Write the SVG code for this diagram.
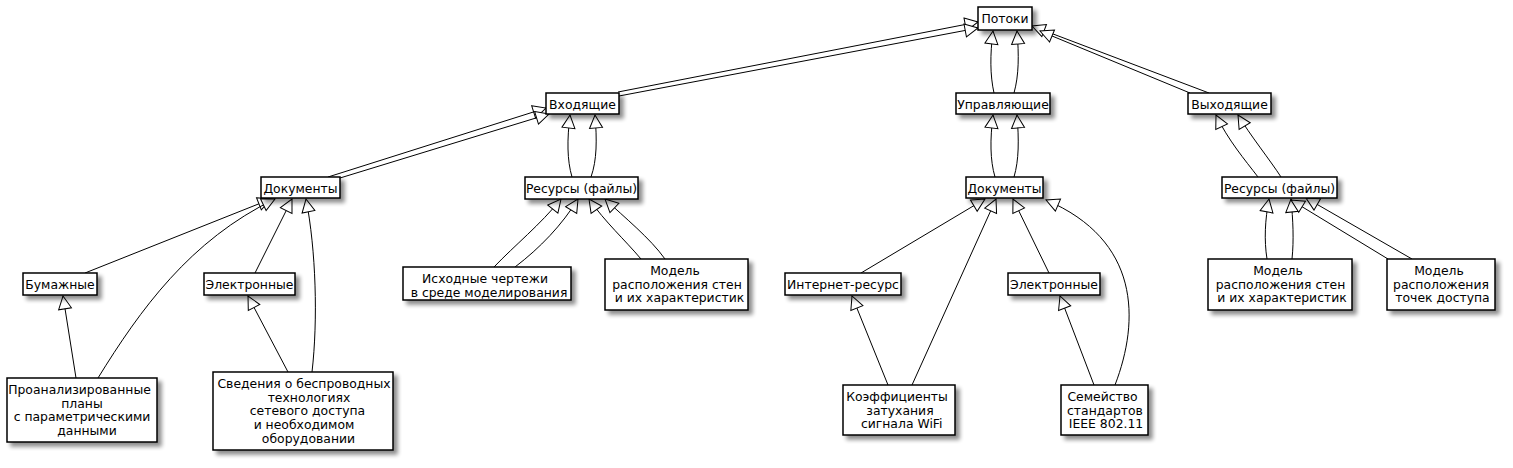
<svg xmlns="http://www.w3.org/2000/svg" width="1513" height="468" viewBox="0 0 1513 468">
<defs>
<style>
.n rect{fill:#fff;stroke:#000;stroke-width:1.5;filter:url(#sh)}
text{font-family:"DejaVu Sans","Noto Sans",sans-serif;font-size:12.4px;text-anchor:middle;fill:#000}
.e path{fill:none;stroke:#000;stroke-width:1;marker-end:url(#tri)}
</style>
<filter id="sh" x="-20%" y="-20%" width="150%" height="160%">
<feGaussianBlur in="SourceAlpha" stdDeviation="2"/>
<feOffset dx="4" dy="4" result="b"/>
<feComponentTransfer><feFuncA type="linear" slope="0.45"/></feComponentTransfer>
<feMerge><feMergeNode/><feMergeNode in="SourceGraphic"/></feMerge>
</filter>
<marker id="tri" markerUnits="userSpaceOnUse" markerWidth="18" markerHeight="18" viewBox="-2 -9 18 18" refX="13" refY="0" orient="auto">
<path d="M0,-6.5 L13,0 L0,6.5 Z" fill="#fff" stroke="#000" stroke-width="1"/>
</marker>
</defs>
<g id="connectors" class="e">
<path d="M618,92 L978,22"/>
<path d="M619,96 L978,28"/>
<path d="M994,93 C990,75 990,55 993,31"/>
<path d="M1014,93 C1019,75 1019,55 1017,31"/>
<path d="M1209,93 L1032,26"/>
<path d="M1190,93 L1040,31"/>
<path d="M328,177 L546,108"/>
<path d="M340,178 L549,114"/>
<path d="M572,177 C567,160 567,140 570,115"/>
<path d="M591,177 C597,160 597,140 595,115"/>
<path d="M85,273 L271,199"/>
<path d="M98,378 C140,310 190,240 275,199"/>
<path d="M255,273 L292,199"/>
<path d="M312,372 C318,320 316,250 306,199"/>
<path d="M76,378 L63,296"/>
<path d="M288,372 L248,296"/>
<path d="M494,267 C515,245 540,225 561,199"/>
<path d="M515,267 C540,248 562,225 578,199"/>
<path d="M641,259 C625,240 605,222 589,199"/>
<path d="M665,259 C650,238 625,218 605,199"/>
<path d="M995,177 C990,160 990,140 993,115"/>
<path d="M1014,177 C1019,160 1019,140 1017,115"/>
<path d="M861,273 L985,199"/>
<path d="M912,385 L996,199"/>
<path d="M1049,273 L1013,199"/>
<path d="M1115,385 C1140,320 1140,240 1046,200"/>
<path d="M888,385 L852,296"/>
<path d="M1094,385 L1060,296"/>
<path d="M1258,177 C1245,160 1228,140 1216,115"/>
<path d="M1281,177 C1270,160 1250,135 1238,115"/>
<path d="M1267,259 C1264,240 1265,220 1269,199"/>
<path d="M1292,259 C1294,240 1293,220 1291,199"/>
<path d="M1388,259 L1291,200"/>
<path d="M1412,259 L1306,198"/>
</g>
<g id="potoki" class="n"><rect x="978" y="7" width="54" height="23"/><text x="1005" y="23">Потоки</text></g>
<g id="vhodyaschie" class="n"><rect x="546" y="93" width="73" height="21"/><text x="582.5" y="108.5">Входящие</text></g>
<g id="upravl" class="n"><rect x="956" y="93" width="94" height="21"/><text x="1003" y="108.5">Управляющие</text></g>
<g id="vyhod" class="n"><rect x="1188" y="93" width="83" height="21"/><text x="1229.5" y="108.5">Выходящие</text></g>
<g id="docs1" class="n"><rect x="261" y="177" width="79" height="21"/><text x="300.5" y="192.5">Документы</text></g>
<g id="res1" class="n"><rect x="525" y="177" width="113" height="22"/><text x="581.5" y="192.5">Ресурсы (файлы)</text></g>
<g id="docs2" class="n"><rect x="966" y="177" width="77" height="21"/><text x="1004.5" y="192.5">Документы</text></g>
<g id="res2" class="n"><rect x="1222" y="177" width="115" height="21"/><text x="1279.5" y="192.5">Ресурсы (файлы)</text></g>
<g id="paper" class="n"><rect x="23" y="273" width="74" height="22"/><text x="60" y="288.5">Бумажные</text></g>
<g id="el1" class="n"><rect x="204" y="273" width="91" height="22"/><text x="249.5" y="288.5">Электронные</text></g>
<g id="inet" class="n"><rect x="785" y="273" width="116" height="22"/><text x="843" y="288.5">Интернет-ресурс</text></g>
<g id="el2" class="n"><rect x="1008" y="273" width="92" height="22"/><text x="1054" y="288.5">Электронные</text></g>
<g id="ishod" class="n"><rect x="403" y="267" width="168" height="33"/><text x="485" y="283">Исходные чертежи</text><text x="489" y="296.7">в среде моделирования</text></g>
<g id="model1" class="n"><rect x="605" y="259" width="143" height="51"/><text x="675" y="275">Модель</text><text x="677" y="288.7">расположения стен</text><text x="679.5" y="302.4">и их характеристик</text></g>
<g id="model2" class="n"><rect x="1208" y="259" width="144" height="51"/><text x="1278" y="275">Модель</text><text x="1280.5" y="288.7">расположения стен</text><text x="1282" y="302.4">и их характеристик</text></g>
<g id="model3" class="n"><rect x="1387" y="259" width="108" height="51"/><text x="1439" y="275">Модель</text><text x="1441" y="288.7">расположения</text><text x="1442.5" y="302.4">точек доступа</text></g>
<g id="plans" class="n"><rect x="7" y="378" width="150" height="64"/><text x="79.5" y="394">Проанализированные</text><text x="82" y="407.7">планы</text><text x="82" y="421.4">с параметрическими</text><text x="87" y="435.1">данными</text></g>
<g id="svedeniya" class="n"><rect x="213" y="372" width="180" height="78"/><text x="304" y="388">Сведения о беспроводных</text><text x="309" y="401.7">технологиях</text><text x="307.5" y="415.4">сетевого доступа</text><text x="304" y="429.1">и необходимом</text><text x="308.5" y="442.8">оборудовании</text></g>
<g id="koef" class="n"><rect x="843" y="385" width="112" height="50"/><text x="897" y="401">Коэффициенты</text><text x="900" y="414.7">затухания</text><text x="901.7" y="428.4">сигнала WiFi</text></g>
<g id="ieee" class="n"><rect x="1061" y="385" width="87" height="50"/><text x="1102.5" y="401">Семейство</text><text x="1105" y="414.7">стандартов</text><text x="1106" y="428.4">IEEE 802.11</text></g>
</svg>
